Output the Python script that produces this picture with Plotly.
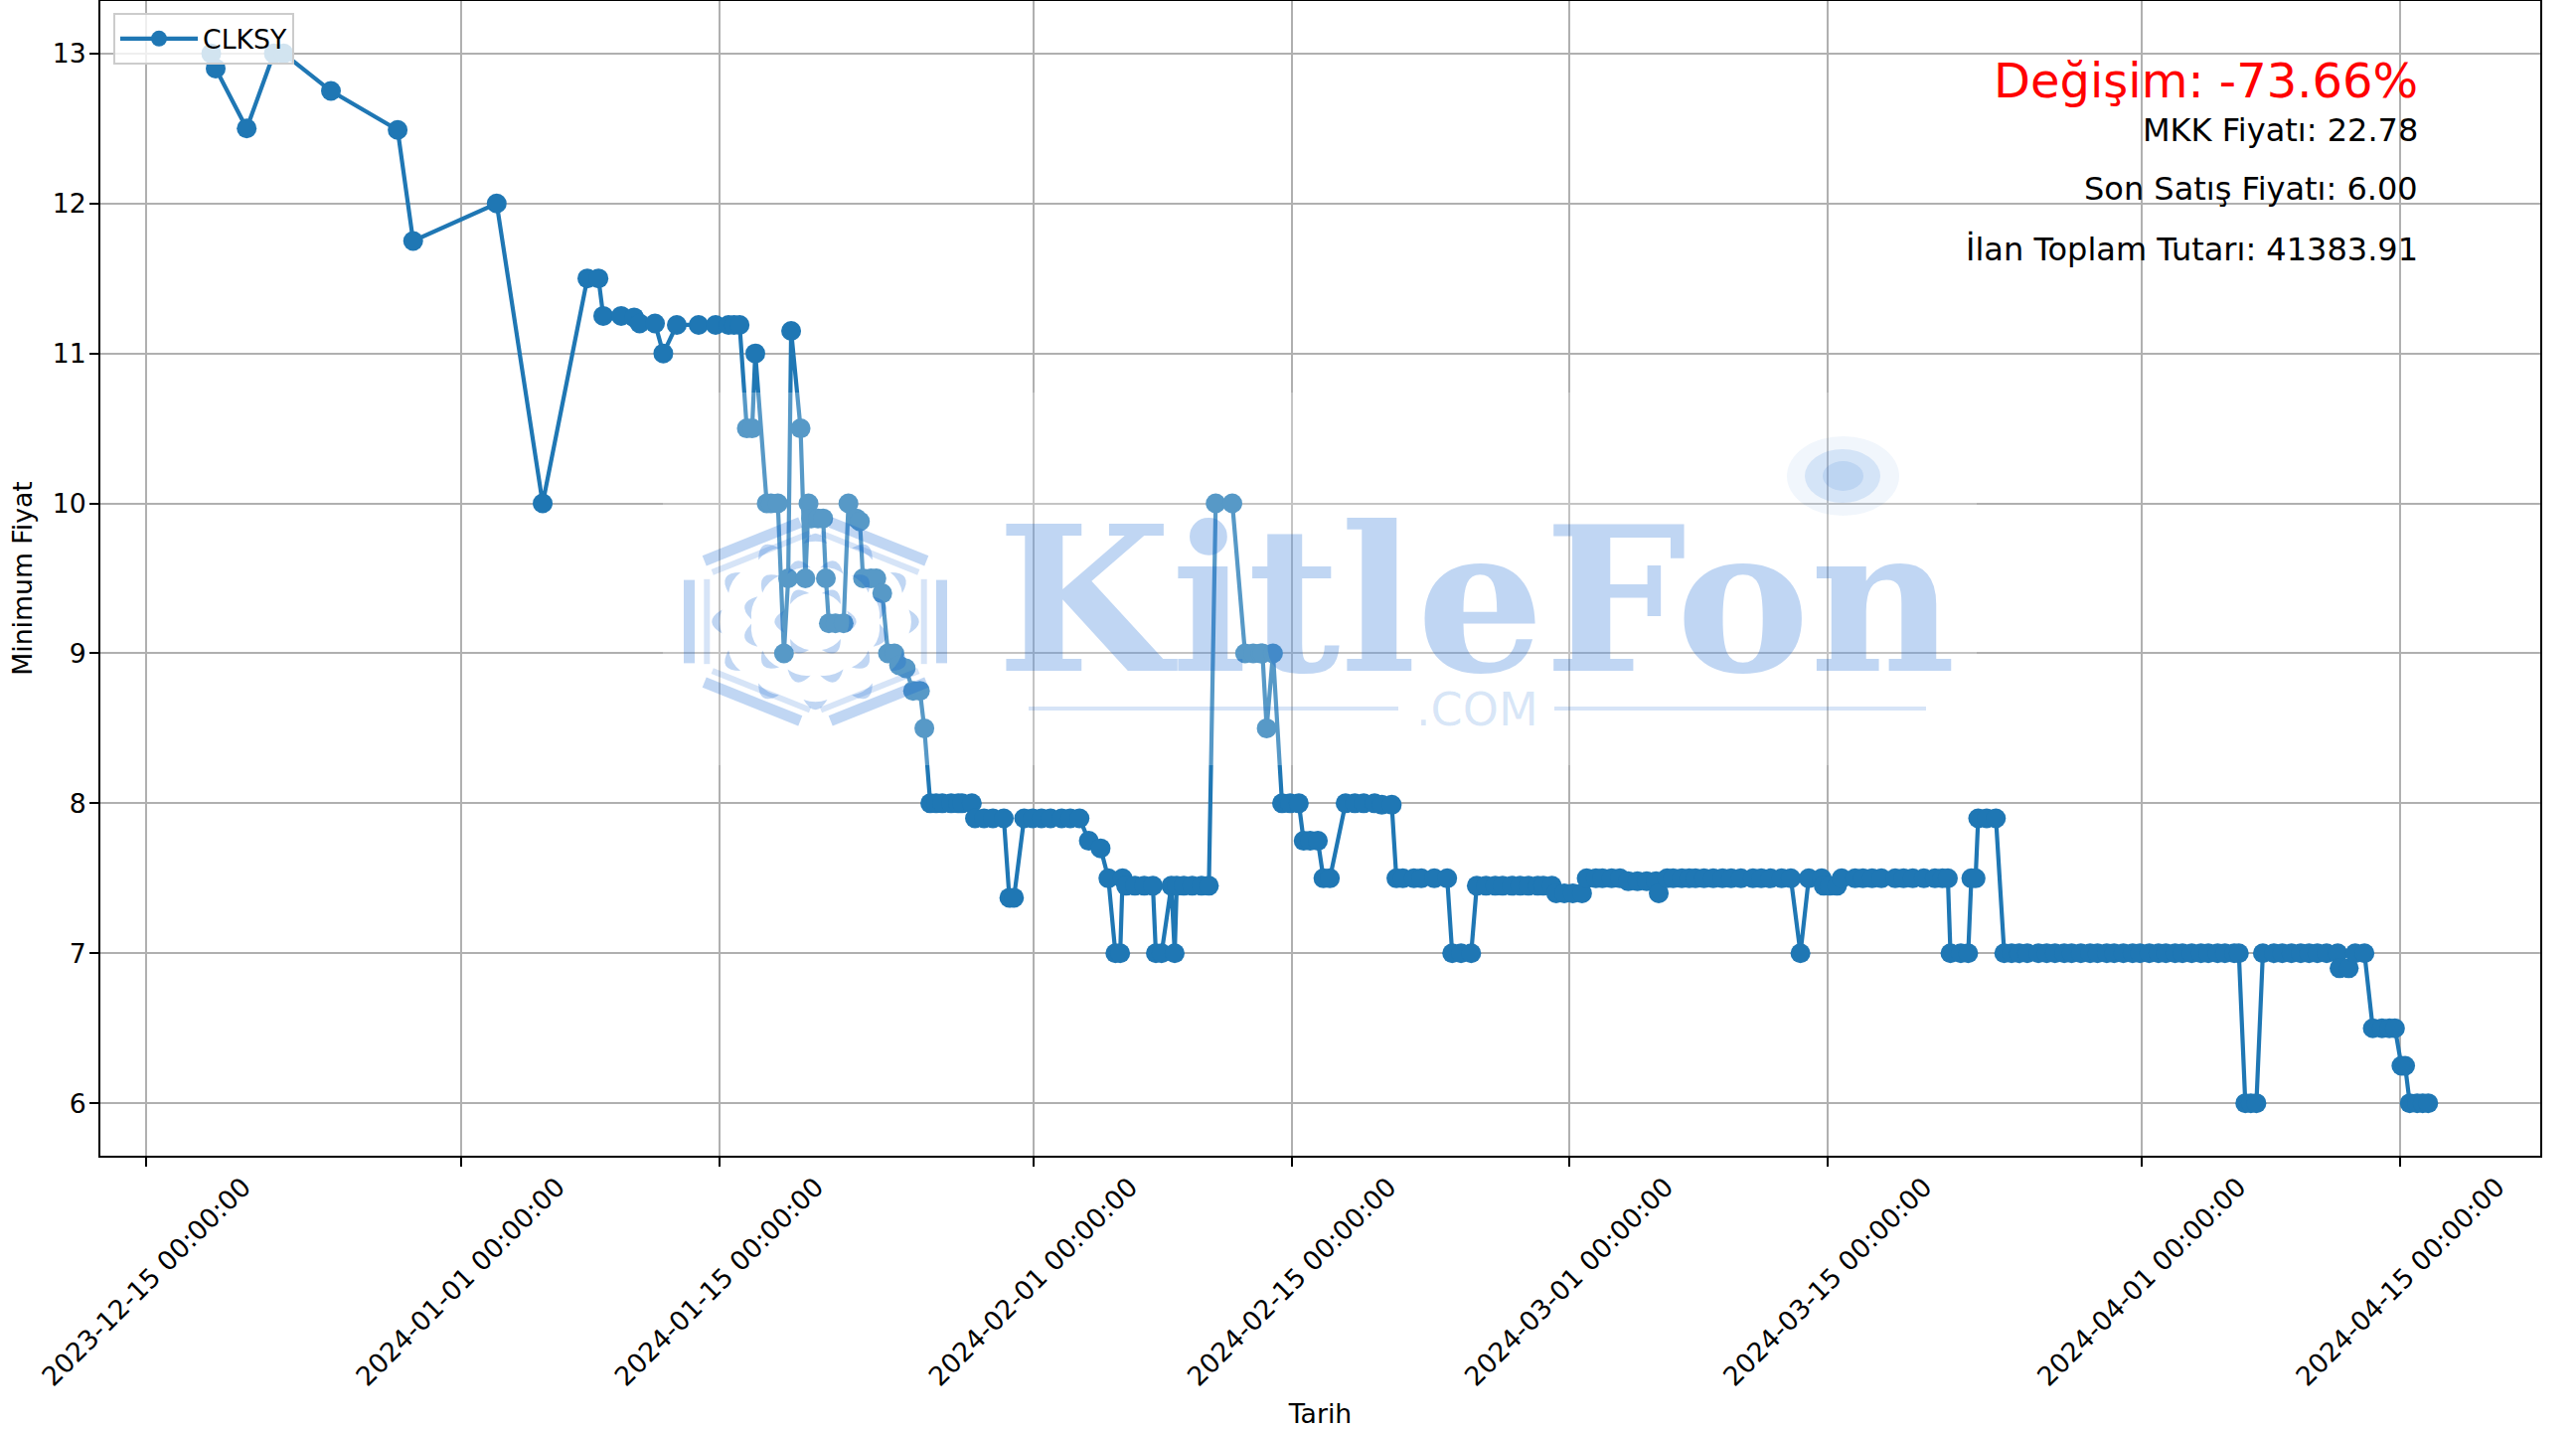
import math
import pandas as pd
import plotly.graph_objects as go

# Each price level and the days (after 2023-12-15) spent on it, in order.
seviye_fiyat = [
    13, 12.9, 12.5, 13, 12.75, 12.49, 11.75, 12, 10, 11.5, 11.25, 11.24, 11.2, 11, 11.19,
    10.5, 11, 10, 9, 9.5, 11.15, 10.5, 9.5, 10, 9.9, 9.5, 9.2, 10, 9.9, 9.88, 9.5, 9.4, 9,
    8.92, 8.9, 8.75, 8.5, 8, 7.9, 7.37, 7.9, 7.75, 7.7, 7.5, 7, 7.5, 7.45, 7, 7.45, 7, 7.45,
    10, 9, 8.5, 9, 8, 7.75, 7.5, 8, 7.99, 7.5, 7, 7.45, 7.4, 7.5, 7.48, 7.4, 7.5, 7, 7.5,
    7.45, 7.5, 7, 7.5, 7.9, 7, 6, 7, 6.9, 7, 6.5, 6.25, 6,
]
seviye_gun = [
    [3.5], [3.74], [5.42], [6.89, 7.42], [9.98], [13.59], [14.43], [18.95], [21.44],
    [23.86, 24.46], [24.72, 25.69], [26.39], [26.69, 27.52], [27.97],
    [28.7, 29.88, 30.8, 31.5, 31.8, 32.1],
    [32.49, 32.78], [32.95], [33.57, 33.8, 34.17], [34.5], [34.73], [34.89], [35.4], [35.66],
    [35.83], [35.97, 36.34, 36.62], [36.77], [36.93, 37.29, 37.73], [37.99], [38.42], [38.61],
    [38.78, 39.21, 39.5], [39.82], [40.13, 40.48],
    [40.73], [41.09], [41.49, 41.86], [42.1],
    [42.42, 42.74, 43.07, 43.55, 43.93, 44.14, 44.67],
    [44.84, 45.33, 45.81, 46.4], [46.7, 46.95],
    [47.5, 47.96, 48.44, 48.93, 49.53, 50.0, 50.5], [51], [51.64], [52.06], [52.44, 52.7],
    [52.83], [53.02, 53.5, 54, 54.47], [54.63, 54.94], [55.47], [55.65],
    [55.76, 56.14, 56.6, 57.1, 57.5],
    [57.87, 58.77], [59.46, 59.9, 60.3, 60.4], [60.63], [60.97], [61.46, 61.9, 62.37],
    [62.63, 62.98, 63.4], [63.7, 64.05], [64.9, 65.4, 65.88, 66.47], [66.86, 67.4],
    [67.65, 68, 68.6, 69, 69.7, 70.4], [70.67, 71.15, 71.7],
    [72, 72.5, 73, 73.4, 73.9, 74.35, 74.8, 75.3, 75.6, 76.07], [76.3, 76.74, 77.2, 77.7],
    [77.95, 78.45, 78.8, 79.3, 79.75], [80.2, 80.7, 81.2, 81.7], [81.85],
    [82.3, 82.63, 83.1, 83.5, 83.84, 84.3, 84.8, 85.3, 85.77, 86.3, 86.95, 87.4, 87.9, 88.5, 89],
    [89.52], [89.97, 90.67], [90.78, 91.1, 91.5],
    [91.75, 92.48, 92.9, 93.4, 93.9, 94.65, 95.1, 95.6, 96.2, 96.8, 97.2, 97.5],
    [97.64, 98.2, 98.6], [98.77, 99.0], [99.14, 99.6, 100.1],
    [100.55, 100.95, 101.35, 101.8, 102.4, 102.85, 103.3, 103.8, 104.2, 104.7, 105.2, 105.6,
     106.1, 106.5, 107.0, 107.5, 107.9, 108.4, 108.9, 109.3, 109.8, 110.2, 110.7, 111.2, 111.6,
     112.1, 112.5, 113.0, 113.25],
    [113.6, 113.9, 114.2],
    [114.55, 115.15, 115.6, 116.1, 116.6, 117.05, 117.5, 118, 118.6], [118.7, 119.2],
    [119.55, 120.05], [120.5, 121, 121.4, 121.7], [122.05, 122.25], [122.5, 122.9, 123.2, 123.5],
]
baslangic = pd.Timestamp("2023-12-15")
gunler = [g for liste in seviye_gun for g in liste]
fiyatlar = [f for f, liste in zip(seviye_fiyat, seviye_gun) for _ in liste]
tarihler = [baslangic + pd.Timedelta(days=g) for g in gunler]

x_ticks = ["2023-12-15", "2024-01-01", "2024-01-15", "2024-02-01", "2024-02-15",
           "2024-03-01", "2024-03-15", "2024-04-01", "2024-04-15"]
x_labels = [t + " 00:00:00" for t in x_ticks]
y_ticks = [6, 7, 8, 9, 10, 11, 12, 13]
x_range = ["2023-12-12 12:00", "2024-04-22 13:30"]
y_range = [5.65, 13.35]

degisim = "Değişim: -73.66%"
bilgi = ["MKK Fiyatı: 22.78", "Son Satış Fiyatı: 6.00", "İlan Toplam Tutarı: 41383.91"]

W, H = 2592, 1438
L, R, T, B = 101, 2556, 1, 1163
FONT = "DejaVu Sans"
MARK = "rgba(10,95,210,0.26)"
MARK2 = "rgba(10,95,210,0.17)"


def px(x):
    return (x - L) / (R - L)


def py(y):
    return 1 - (y - T) / (B - T)


fig = go.Figure(go.Scatter(
    x=tarihler, y=fiyatlar, mode="lines+markers", name="CLKSY",
    line=dict(color="#1f77b4", width=4.2), marker=dict(color="#1f77b4", size=20),
    showlegend=True,
))

shapes = []


def box(kind, x0, y0, x1, y1, color):
    shapes.append(dict(type=kind, xref="paper", yref="paper", layer="above",
                       x0=px(x0), x1=px(x1), y0=py(y0), y1=py(y1),
                       fillcolor=color, line=dict(width=0)))


def seg(x0, y0, x1, y1, color, width):
    shapes.append(dict(type="line", xref="paper", yref="paper", layer="above",
                       x0=px(x0), x1=px(x1), y0=py(y0), y1=py(y1),
                       line=dict(color=color, width=width)))


# watermark: pale wash of the pasted logo image, then its parts
box("rect", 667, 395, 1989, 770, "rgba(255,255,255,0.25)")
box("circle", 1798, 439, 1911, 519, "rgba(10,95,210,0.06)")
box("circle", 1816, 452, 1892, 506, "rgba(10,95,210,0.12)")
box("circle", 1834, 464, 1875, 494, "rgba(10,95,210,0.11)")
seg(1035, 713, 1407, 713, MARK2, 4)
seg(1564, 713, 1938, 713, MARK2, 4)

hx, hy, hrx, hry = 820.5, 625.5, 127, 106
verts = [(0, -1), (1, -0.52), (1, 0.52), (0, 1), (-1, 0.52), (-1, -0.52)]
for s, w, col, f0, f1 in ((1.0, 11, MARK, 0.12, 0.88), (0.86, 6, MARK2, 0.05, 0.95)):
    for i in range(6):
        a, b = verts[i], verts[(i + 1) % 6]
        mx0 = s * (a[0] + (b[0] - a[0]) * f0)
        my0 = s * (a[1] + (b[1] - a[1]) * f0)
        mx1 = s * (a[0] + (b[0] - a[0]) * f1)
        my1 = s * (a[1] + (b[1] - a[1]) * f1)
        seg(hx + mx0 * hrx, hy + my0 * hry, hx + mx1 * hrx, hy + my1 * hry, col, w)

for r, n, off, sz in ((0.25, 6, 0, 11), (0.50, 12, 15, 12), (0.74, 12, 0, 12)):
    for k in range(n):
        t = math.radians(off + k * 360 / n)
        c, d = math.cos(t), math.sin(t)
        cx, cy = hx + r * hrx * c, hy + r * hry * d
        nx, ny = -d, c
        p1 = (cx + nx * sz, cy + ny * sz)
        p2 = (cx - nx * sz, cy - ny * sz)
        q1 = (cx + c * sz * 1.7, cy + d * sz * 1.7)
        q2 = (cx + c * sz * 0.4, cy + d * sz * 0.4)
        path = "M{} {} Q{} {} {} {} Q{} {} {} {} Z".format(
            px(p1[0]), py(p1[1]), px(q1[0]), py(q1[1]), px(p2[0]), py(p2[1]),
            px(q2[0]), py(q2[1]), px(p1[0]), py(p1[1]))
        shapes.append(dict(type="path", xref="paper", yref="paper", layer="above", path=path,
                           fillcolor=MARK, line=dict(width=0)))

notes = [
    dict(text="KitleFon", xref="paper", yref="paper", x=px(1485), y=py(604), xanchor="center",
         yanchor="middle", showarrow=False,
         font=dict(family="DejaVu Serif", size=202, color=MARK, weight="bold")),
    dict(text=".COM", xref="paper", yref="paper", x=px(1486), y=py(714), xanchor="center",
         yanchor="middle", showarrow=False,
         font=dict(family="DejaVu Sans", size=46, color=MARK2)),
    dict(text=degisim, xref="paper", yref="paper", x=px(2435), y=py(81), xanchor="right",
         yanchor="middle", showarrow=False, font=dict(family=FONT, size=48, color="red")),
]
for metin, yy in zip(bilgi, [131, 190, 251]):
    notes.append(dict(text=metin, xref="paper", yref="paper", x=px(2435), y=py(yy),
                      xanchor="right", yanchor="middle", showarrow=False,
                      font=dict(family=FONT, size=32, color="black")))

axis = dict(showgrid=True, gridcolor="#b0b0b0", gridwidth=2, zeroline=False, automargin=False,
            showline=True, linecolor="black", linewidth=2, mirror=True,
            ticks="outside", ticklen=9, tickwidth=2, tickcolor="black",
            tickfont=dict(family=FONT, size=26.7, color="black"))

fig.update_layout(
    width=W, height=H, autosize=False,
    margin=dict(l=L, r=W - R, t=T, b=H - B, pad=0),
    paper_bgcolor="white", plot_bgcolor="white",
    font=dict(family=FONT, size=26.7, color="black"),
    xaxis=dict(axis, type="date", range=x_range, tickmode="array", tickvals=x_ticks,
               ticktext=x_labels, tickangle=-45, ticklabelshift=97, ticklabelstandoff=-6,
               title=dict(text="Tarih", font=dict(family=FONT, size=26.7))),
    yaxis=dict(axis, range=y_range, tickmode="array", tickvals=y_ticks, ticklabelstandoff=-2,
               title=dict(text="Minimum Fiyat", font=dict(family=FONT, size=26.7), standoff=12)),
    legend=dict(x=px(114), y=py(13), xanchor="left", yanchor="top",
                bgcolor="rgba(255,255,255,0.8)", bordercolor="#cccccc", borderwidth=2,
                font=dict(family=FONT, size=26.7, color="black"), itemwidth=78),
    shapes=shapes, annotations=notes,
)

fig.write_html("out.html", config=dict(displayModeBar=False),
               post_script="document.body.style.margin='0';")
